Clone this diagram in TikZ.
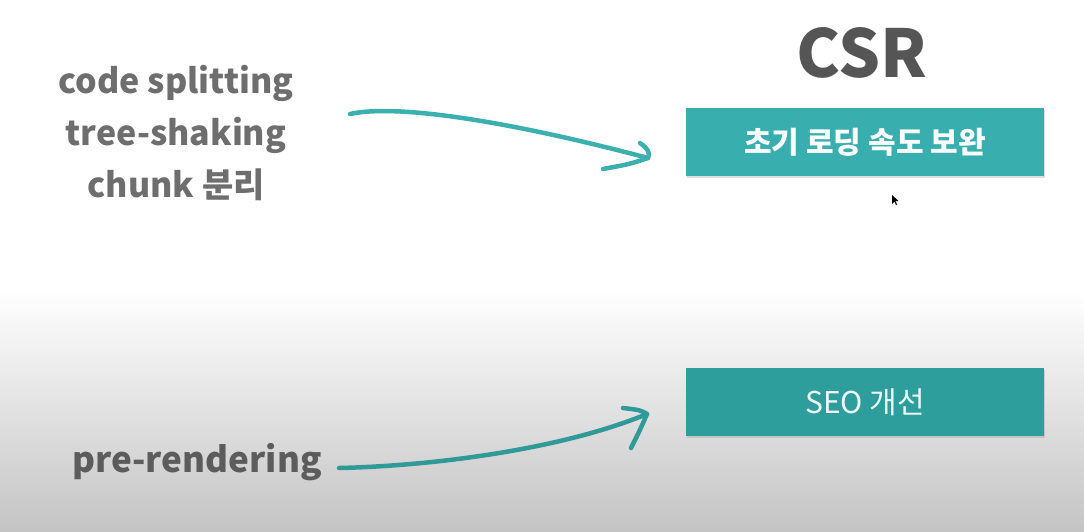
\documentclass[tikz,border=0pt]{standalone}
\usepackage{fontspec}
\setmainfont{Noto Sans CJK KR}
\usetikzlibrary{shadows}

\definecolor{tealA}{HTML}{38AEAF}
\definecolor{tealB}{HTML}{2E9E9D}
\definecolor{arrA}{HTML}{3BB0AF}
\definecolor{arrB}{HTML}{2F9A97}
\definecolor{txtgray}{HTML}{6E6E6E}
\definecolor{txtdark}{HTML}{5C5C5C}
\definecolor{title}{HTML}{555555}
\definecolor{bgbottom}{HTML}{C4C4C4}

\tikzset{
  goalbox/.style={rectangle, minimum width=358pt, minimum height=68pt, inner sep=0pt,
    drop shadow={shadow xshift=1pt, shadow yshift=-2pt, opacity=0.25}},
  lefttext/.style={anchor=base, text=txtgray, font=\fontsize{34}{36}\selectfont\bfseries},
  sketch/.style={line width=4.5pt, line cap=round, line join=round}
}

\begin{document}
\begin{tikzpicture}[x=1pt, y=-1pt]
  % page and its light-grey fade towards the bottom
  \fill[white] (0,0) rectangle (1084,531);
  \shade[top color=white, bottom color=bgbottom] (0,290) rectangle (1084,531);
  \useasboundingbox (0,0) rectangle (1084,531);

  % heading
  \node[anchor=base, text=title, font=\fontsize{66}{68}\selectfont\bfseries] (csr) at (862,77) {CSR};

  % targets
  \node[goalbox, fill=tealA, text=white, font=\fontsize{30}{32}\selectfont\bfseries]
    (speed) at (865,142) {초기 로딩 속도 보완};
  \node[goalbox, fill=tealB, text=white!92!tealB, font=\fontsize{30}{32}\selectfont]
    (seo) at (865,402) {SEO 개선};

  % techniques
  \node[lefttext] (cs) at (176,93) {code splitting};
  \node[lefttext] (ts) at (176,145) {tree-shaking};
  \node[lefttext] (ch) at (176,197) {chunk 분리};
  \node[lefttext, text=txtdark, font=\fontsize{35}{37}\selectfont\bfseries] (pre) at (197,472) {pre-rendering};

  % hand-drawn arrow ends
  \coordinate (a1s) at (350,114);
  \coordinate (a1t) at (648,158);
  \coordinate (a2s) at (339,468);
  \coordinate (a2t) at (647,414);

  % arrow: bundling techniques -> faster first load
  \draw[sketch, arrA] (a1s) .. controls (400,103) and (520,124) .. (a1t);
  \draw[sketch, arrA] (640,143) .. controls (647,148) and (651,153) .. (a1t)
                      .. controls (630,164) .. (603,169);

  % arrow: pre-rendering -> SEO
  \draw[sketch, arrB] (a2s) .. controls (430,466) and (560,450) .. (a2t);
  \draw[sketch, arrB] (623,408) .. controls (640,410) .. (a2t)
                      .. controls (640,430) .. (631,448);

  % mouse pointer
  \fill[black] (892,195) -- (892,204) -- (894.5,201.5) -- (896,205) -- (897,204.5) -- (895.5,201) -- (898.5,201) -- cycle;
\end{tikzpicture}
\end{document}
